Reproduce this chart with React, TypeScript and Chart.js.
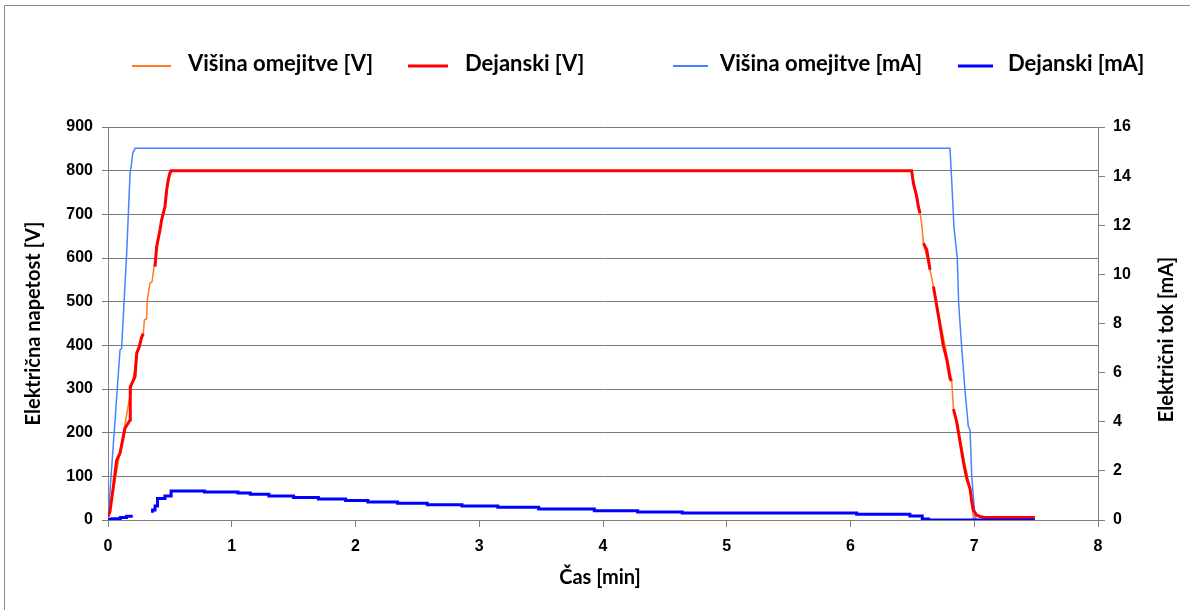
import React, { useEffect, useRef } from 'react';
import { Chart, registerables } from 'chart.js';

Chart.register(...registerables);

// ---------- data ----------
const seriesNames = ['Višina omejitve [V]', 'Dejanski [V]', 'Višina omejitve [mA]', 'Dejanski [mA]'];
const seriesColors = ['#FF7A21', '#FF0000', '#4682FF', '#0000FF'];

const xTicks = [0, 1, 2, 3, 4, 5, 6, 7, 8];
const voltTicks = [0, 100, 200, 300, 400, 500, 600, 700, 800, 900];
const currentTicks = [0, 2, 4, 6, 8, 10, 12, 14, 16];

// Višina omejitve [V]
const voltLimitTime = [0, 0.05, 0.1, 0.15, 0.2, 0.25, 0.285, 0.294, 0.312, 0.318, 0.339, 0.356, 0.372, 0.42, 0.46, 0.5,
  6.494, 6.562, 6.575, 6.589, 6.643, 6.67, 6.818, 6.832, 6.967, 6.993, 7.0];
const voltLimitValue = [0, 80, 160, 240, 320, 400, 424, 458, 461, 504, 542, 546, 580, 664, 720, 800,
  800, 702, 680, 634, 573, 535, 319, 254, 71, 5, 0];

// Dejanski [V] (null = gap in the recorded trace)
const voltActualTime = [0, 0.016, 0.043, 0.07, 0.097, 0.124, 0.137, 0.164, 0.178, 0.18, 0.218, 0.232, 0.253, 0.272, 0.285,
  0.33, 0.38, 0.393, 0.42, 0.433, 0.447, 0.46, 0.474, 0.487, 0.5, 0.51,
  6.494, 6.508, 6.535, 6.548, 6.562, 6.575, 6.589, 6.616, 6.643, 6.655, 6.67, 6.697, 6.724, 6.75, 6.778, 6.805, 6.818,
  6.825, 6.832, 6.859, 6.886, 6.913, 6.94, 6.967, 6.98, 6.993, 7.02, 7.047, 7.08, 7.49];
const voltActualValue = [8, 19, 76, 137, 153, 191, 210, 222, 229, 305, 328, 382, 397, 419, 427,
  null, 580, 626, 664, 687, 703, 717, 756, 779, 794, 800,
  800, 771, 741, 718, 702, null, 634, 619, 573, null, 535, 490, 444, 399, 368, 323, 319,
  null, 254, 224, 178, 132, 94, 71, 41, 22, 11, 8, 6, 6];

// Višina omejitve [mA]
const currentLimitTime = [0, 0.057, 0.097, 0.11, 0.151, 0.178, 0.19, 0.2, 0.218,
  6.804, 6.817, 6.836, 6.863, 6.874, 6.898, 6.925, 6.952, 6.966, 6.98, 7.006, 7.02];
const currentLimitValue = [0, 4.07, 6.92, 6.99, 10.86, 14.1, 14.5, 14.93, 15.13,
  15.13, 13.9, 11.94, 10.65, 8.82, 7.06, 5.29, 3.8, 3.66, 1.76, 0.13, 0];

// Dejanski [mA] (step levels, each held until the next time)
const currentActualTime = [0, 0.03, 0.1, 0.15, 0.2, 0.31, 0.36, 0.38, 0.4, 0.46, 0.51, 0.78, 1.05, 1.15, 1.3, 1.5, 1.7,
  1.92, 2.1, 2.34, 2.58, 2.86, 3.15, 3.48, 3.93, 4.28, 4.64, 6.05, 6.48, 6.58, 6.63, 6.75, 7.49];
const currentActualValue = [0, 0.02, 0.05, 0.1, 0.15, null, 0.3, 0.41, 0.57, 0.88, 0.98, 1.18, 1.14, 1.1, 1.05, 0.98, 0.92,
  0.86, 0.79, 0.73, 0.68, 0.62, 0.57, 0.52, 0.45, 0.38, 0.33, 0.28, 0.23, 0.16, 0.04, 0, 0];

const xTitle = 'Čas [min]';
const yLeftTitle = 'Električna napetost [V]';
const yRightTitle = 'Električni tok [mA]';

function zip(xs: number[], ys: (number | null)[]) {
  return xs.map((x, i) => ({ x, y: ys[i] }));
}

const TICK_FONT = { family: "'Liberation Sans', Arial, sans-serif", size: 16, weight: 'bold' as const };
const TITLE_FONT = "bold 20px Lato, 'Open Sans', sans-serif";
const LEGEND_FONT = "bold 22px Lato, 'Open Sans', sans-serif";

const legendLayout = [
  { x0: 132, x1: 171, tx: 188, w: 2 },
  { x0: 408, x1: 448, tx: 465, w: 3 },
  { x0: 673, x1: 708, tx: 720, w: 2 },
  { x0: 958, x1: 993, tx: 1008, w: 3 },
];

const decorPlugin = {
  id: 'decor',
  beforeDraw(chart: any) {
    const ctx = chart.ctx;
    ctx.save();
    ctx.strokeStyle = '#8a8a8a';
    ctx.lineWidth = 1;
    ctx.strokeRect(4.5, 5.5, 1300, 800);
    ctx.restore();
  },
  afterDraw(chart: any) {
    const ctx = chart.ctx;
    const area = chart.chartArea;
    ctx.save();
    // legend
    ctx.font = LEGEND_FONT;
    ctx.textBaseline = 'middle';
    ctx.textAlign = 'left';
    legendLayout.forEach((l, i) => {
      ctx.strokeStyle = seriesColors[i];
      ctx.lineWidth = l.w;
      ctx.beginPath();
      ctx.moveTo(l.x0, 66);
      ctx.lineTo(l.x1, 66);
      ctx.stroke();
      ctx.fillStyle = '#000';
      ctx.fillText(seriesNames[i], l.tx, 64);
    });
    // axis titles
    ctx.font = TITLE_FONT;
    ctx.fillStyle = '#000';
    ctx.textAlign = 'center';
    ctx.textBaseline = 'middle';
    ctx.fillText(xTitle, (area.left + area.right) / 2 - 3, 578);

    ctx.save();
    ctx.translate(34, (area.top + area.bottom) / 2);
    ctx.rotate(-Math.PI / 2);
    ctx.fillText(yLeftTitle, 0, 0);
    ctx.restore();

    ctx.save();
    ctx.translate(1167, (area.top + area.bottom) / 2 + 16);
    ctx.rotate(-Math.PI / 2);
    ctx.fillText(yRightTitle, 0, 0);
    ctx.restore();

    ctx.restore();
  },
};

export default function App() {
  const ref = useRef<HTMLCanvasElement>(null);

  useEffect(() => {
    if (!ref.current) return;
    const chart = new Chart(ref.current, {
      type: 'line',
      data: {
        datasets: [
          {
            label: seriesNames[3],
            data: zip(currentActualTime, currentActualValue),
            yAxisID: 'y1',
            borderColor: seriesColors[3],
            borderWidth: 3,
            stepped: 'after',
            pointRadius: 0,
            order: 0,
          },
          {
            label: seriesNames[1],
            data: zip(voltActualTime, voltActualValue),
            yAxisID: 'y',
            borderColor: seriesColors[1],
            borderWidth: 3,
            pointRadius: 0,
            order: 1,
          },
          {
            label: seriesNames[2],
            data: zip(currentLimitTime, currentLimitValue),
            yAxisID: 'y1',
            borderColor: seriesColors[2],
            borderWidth: 1.5,
            pointRadius: 0,
            order: 2,
          },
          {
            label: seriesNames[0],
            data: zip(voltLimitTime, voltLimitValue),
            yAxisID: 'y',
            borderColor: seriesColors[0],
            borderWidth: 1.5,
            pointRadius: 0,
            order: 3,
          },
        ],
      },
      options: {
        animation: false,
        responsive: false,
        maintainAspectRatio: false,
        spanGaps: false,
        layout: { padding: { top: 127, left: 0, right: 0, bottom: 0 } },
        plugins: { legend: { display: false }, tooltip: { enabled: false }, title: { display: false } },
        elements: { line: { tension: 0 } },
        scales: {
          x: {
            type: 'linear',
            min: xTicks[0],
            max: xTicks[xTicks.length - 1],
            afterBuildTicks: (s: any) => { s.ticks = xTicks.map((v) => ({ value: v })); },
            afterFit: (s: any) => { s.height = 90; },
            ticks: { color: '#000', font: TICK_FONT, padding: 10, maxRotation: 0 },
            grid: { drawOnChartArea: false, tickLength: 7, color: '#808080' },
            border: { color: '#808080', width: 1 },
          },
          y: {
            type: 'linear',
            position: 'left',
            min: voltTicks[0],
            max: voltTicks[voltTicks.length - 1],
            afterBuildTicks: (s: any) => { s.ticks = voltTicks.map((v) => ({ value: v })); },
            afterFit: (s: any) => { s.width = 108; },
            ticks: { color: '#000', font: TICK_FONT, padding: 9 },
            grid: { color: '#7a7a7a', tickLength: 6, lineWidth: 1 },
            border: { color: '#808080', width: 1 },
          },
          y1: {
            type: 'linear',
            position: 'right',
            min: currentTicks[0],
            max: currentTicks[currentTicks.length - 1],
            afterBuildTicks: (s: any) => { s.ticks = currentTicks.map((v) => ({ value: v })); },
            afterFit: (s: any) => { s.width = 92; },
            ticks: { color: '#000', font: TICK_FONT, padding: 8 },
            grid: { drawOnChartArea: false, tickLength: 7, color: '#808080' },
            border: { color: '#808080', width: 1 },
          },
        },
      },
      plugins: [decorPlugin],
    } as any);
    return () => chart.destroy();
  }, []);

  return (
    <div style={{ position: 'absolute', left: 0, top: 0, width: 1190, height: 610 }}>
      <canvas ref={ref} width={1190} height={610} style={{ display: 'block' }} />
    </div>
  );
}
